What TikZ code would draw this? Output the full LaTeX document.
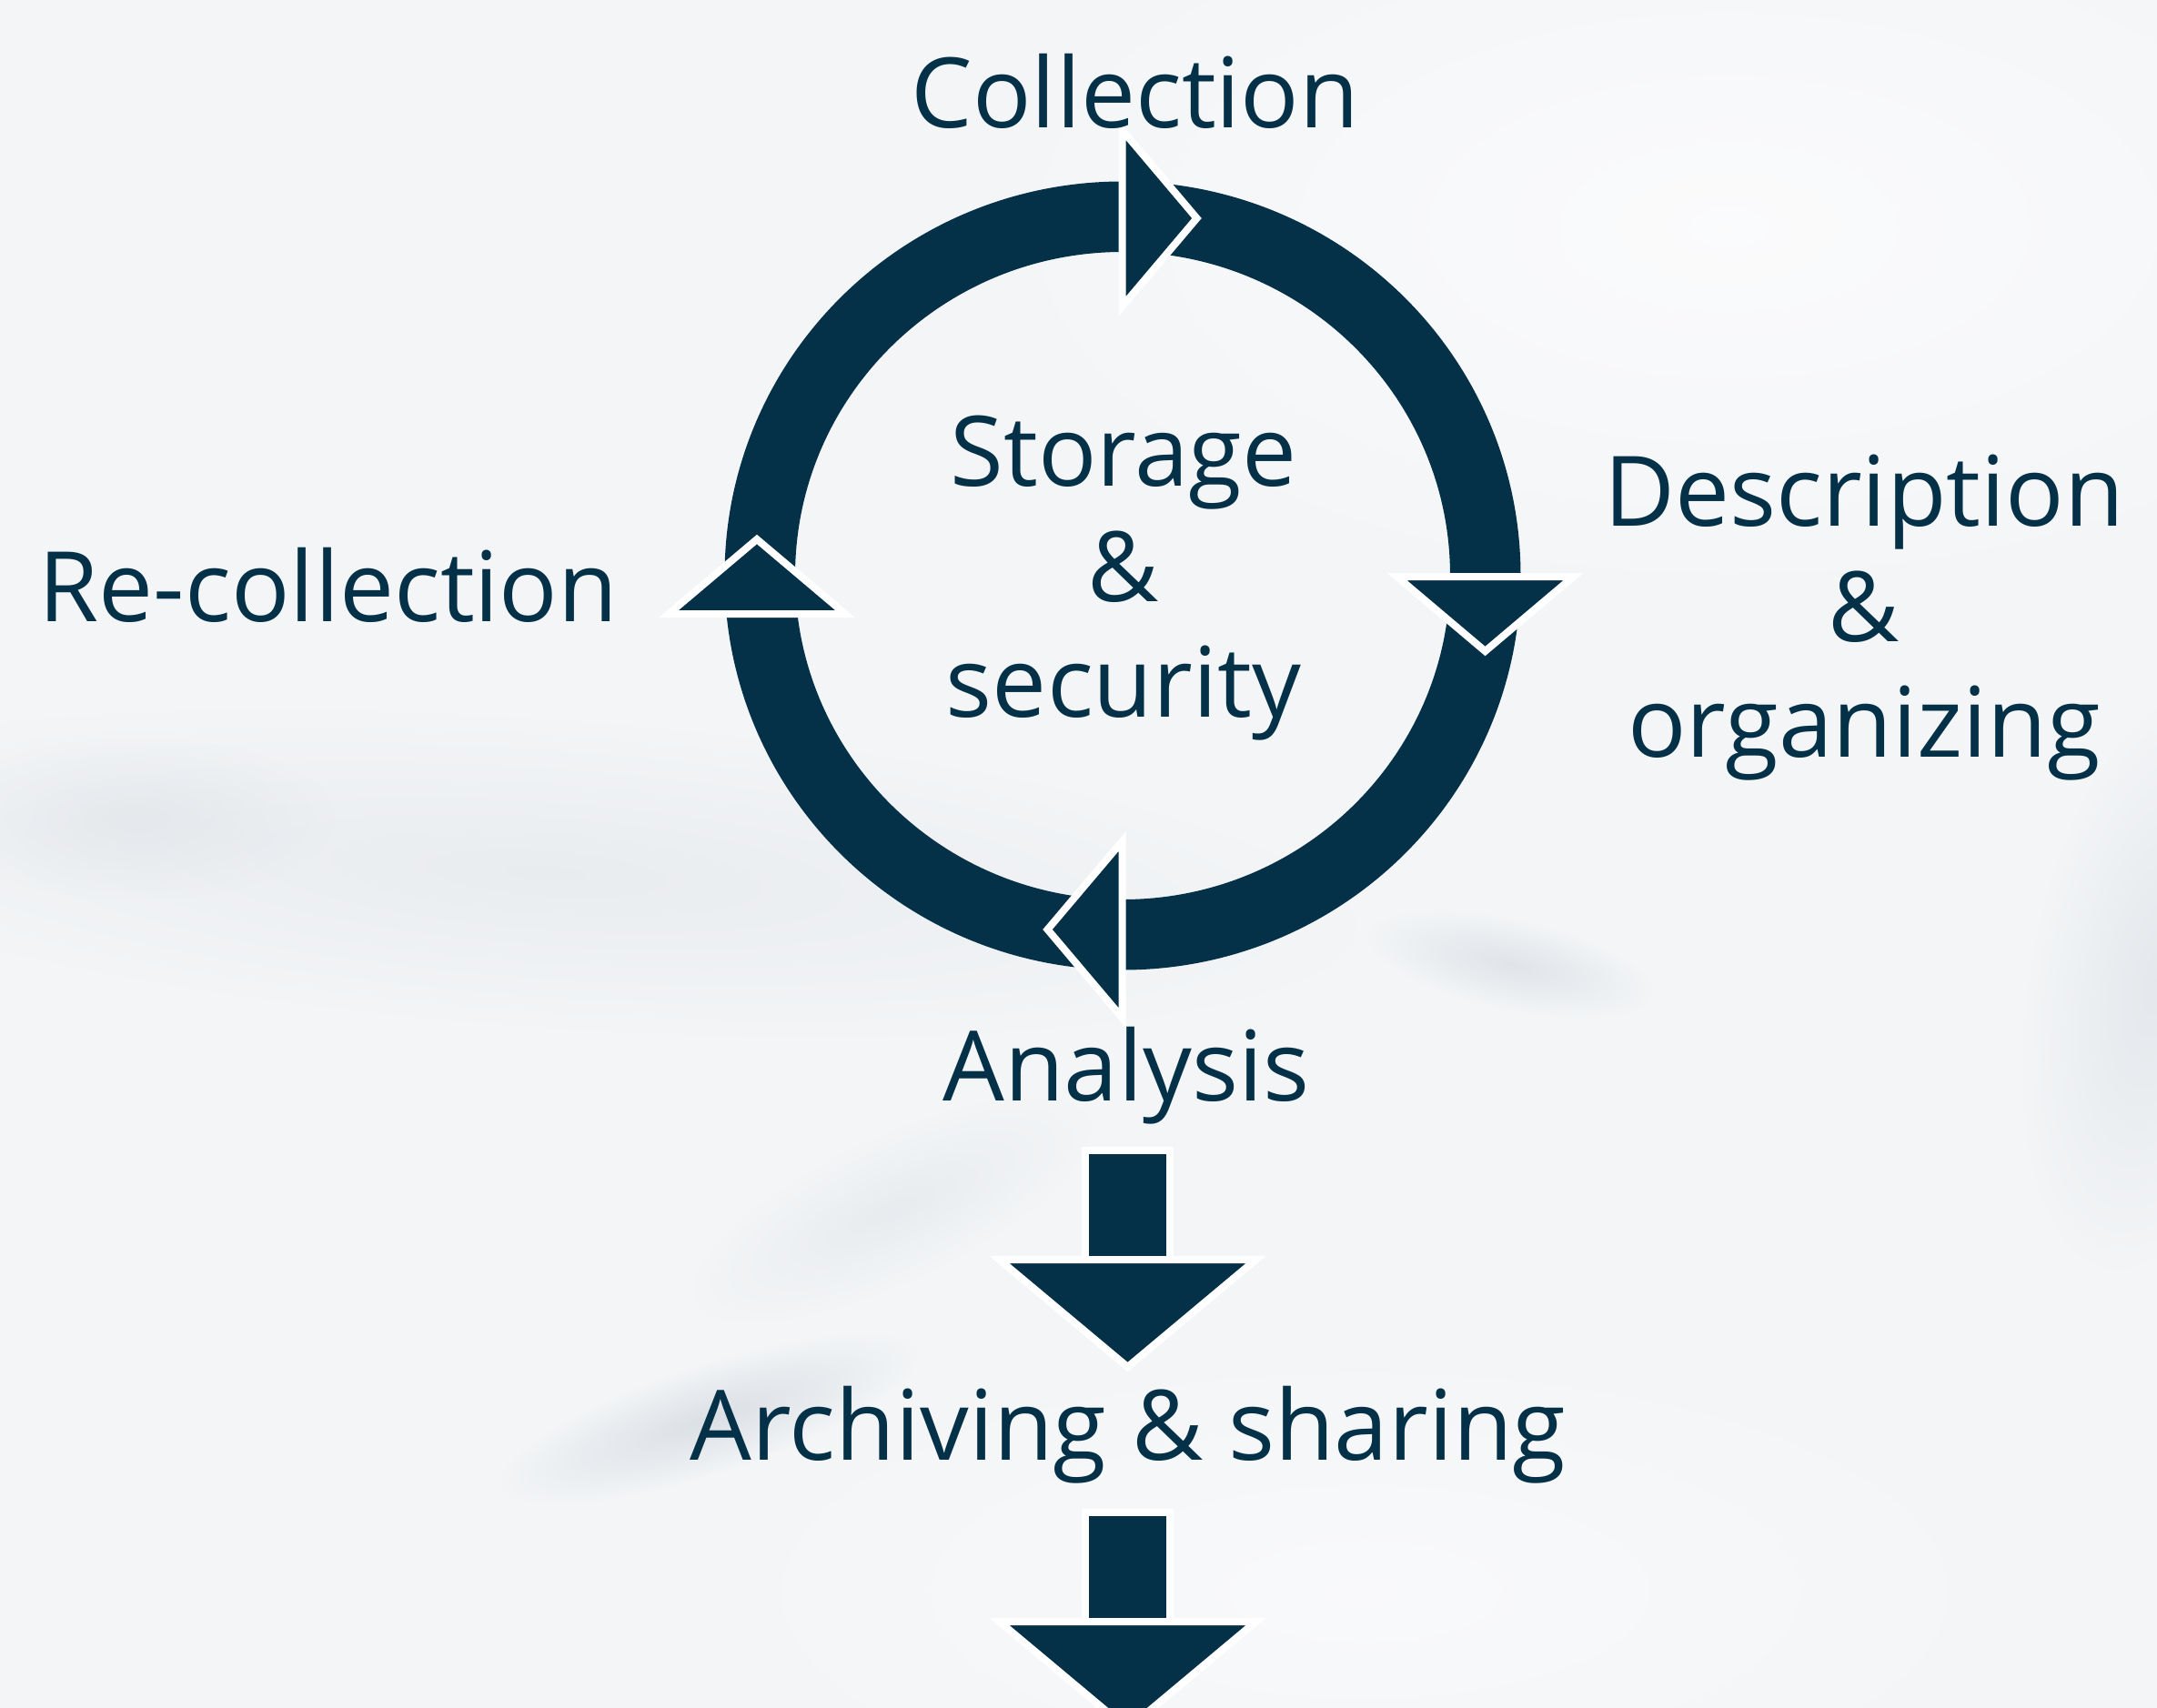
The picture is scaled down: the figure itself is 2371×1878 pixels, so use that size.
\documentclass[tikz,border=0pt]{standalone}
\usepackage{fontspec}
\setmainfont{Open Sans}
\usetikzlibrary{fadings}
\definecolor{dk}{RGB}{4,49,71}
\definecolor{bgc}{RGB}{243,245,247}
\definecolor{smudge}{RGB}{196,203,210}
\definecolor{lite}{RGB}{252,252,253}
\tikzfading[name=softfade, inner color=transparent!0, outer color=transparent!100]
\tikzset{
  lbl/.style={text=dk, font=\fontsize{107}{127}\selectfont, inner sep=0pt, align=center},
  tri/.style={fill=dk, draw=white, line width=8pt, line join=miter},
  blob/.style={path fading=softfade},
}
\begin{document}
\begin{tikzpicture}[x=1pt,y=-1pt]
\useasboundingbox (0,0) rectangle (2371,1878);
\fill[bgc] (0,0) rectangle (2371,1878);
\begin{scope}
\clip (0,0) rectangle (2371,1878);
% lighter areas
\begin{scope}[transform canvas={shift={(1900,250)}}]
\fill[lite, blob, opacity=0.9] (0,0) ellipse (900pt and 450pt);
\end{scope}
\begin{scope}[transform canvas={shift={(1500,1750)}}]
\fill[lite, blob, opacity=0.7] (0,0) ellipse (800pt and 300pt);
\end{scope}
% grey smudges
\begin{scope}[transform canvas={shift={(600,960)}, rotate=-4}]
\fill[smudge, blob, opacity=0.2] (0,0) ellipse (900pt and 170pt);
\end{scope}
\begin{scope}[transform canvas={shift={(1660,1060)}, rotate=-12}]
\fill[smudge, blob, opacity=0.4] (0,0) ellipse (160pt and 50pt);
\end{scope}
\begin{scope}[transform canvas={shift={(780,1560)}, rotate=18}]
\fill[smudge, blob, opacity=0.5] (0,0) ellipse (240pt and 60pt);
\end{scope}
\begin{scope}[transform canvas={shift={(980,1330)}, rotate=25}]
\fill[smudge, blob, opacity=0.22] (0,0) ellipse (240pt and 80pt);
\end{scope}
\begin{scope}[transform canvas={shift={(2371,1080)}, rotate=80}]
\fill[smudge, blob, opacity=0.3] (0,0) ellipse (320pt and 140pt);
\end{scope}
\begin{scope}[transform canvas={shift={(150,900)}}]
\fill[smudge, blob, opacity=0.22] (0,0) ellipse (220pt and 90pt);
\end{scope}
\end{scope}

% ring
\draw[dk, line width=77.5pt] (1234,633) ellipse (398.75pt and 394.75pt);
% arrowheads on the ring
\path[tri] (1233.5,143) -- (1315.5,240) -- (1233.5,337) -- cycle;
\path[tri] (1535.5,634) -- (1729.5,634) -- (1632.5,716) -- cycle;
\path[tri] (1233.5,925) -- (1233.5,1119) -- (1151.5,1022) -- cycle;
\path[tri] (735,675) -- (929,675) -- (832,593) -- cycle;

% block arrows
\path[tri] (1193,1265) rectangle (1286,1385);
\path[tri] (1098.5,1385) -- (1380.5,1385) -- (1239.5,1503) -- cycle;
\path[tri] (1193,1663) rectangle (1286,1783);
\path[tri] (1098.5,1783) -- (1380.5,1783) -- (1239.5,1901) -- cycle;

% labels (base = baseline of the last line)
\node[lbl, anchor=base] (collection) at (1248,141) {Collection};
\node[lbl, anchor=base] (storage) at (1235,788) {Storage\\\&\\security};
\node[lbl, anchor=base] (description) at (2049,832) {Description\\\&\\organizing};
\node[lbl, anchor=base] (recollection) at (361,683) {Re-collection};
\node[lbl, anchor=base] (analysis) at (1238,1210) {Analysis};
\node[lbl, anchor=base] (archiving) at (1240,1605) {Archiving \& sharing};
\end{tikzpicture}
\end{document}
